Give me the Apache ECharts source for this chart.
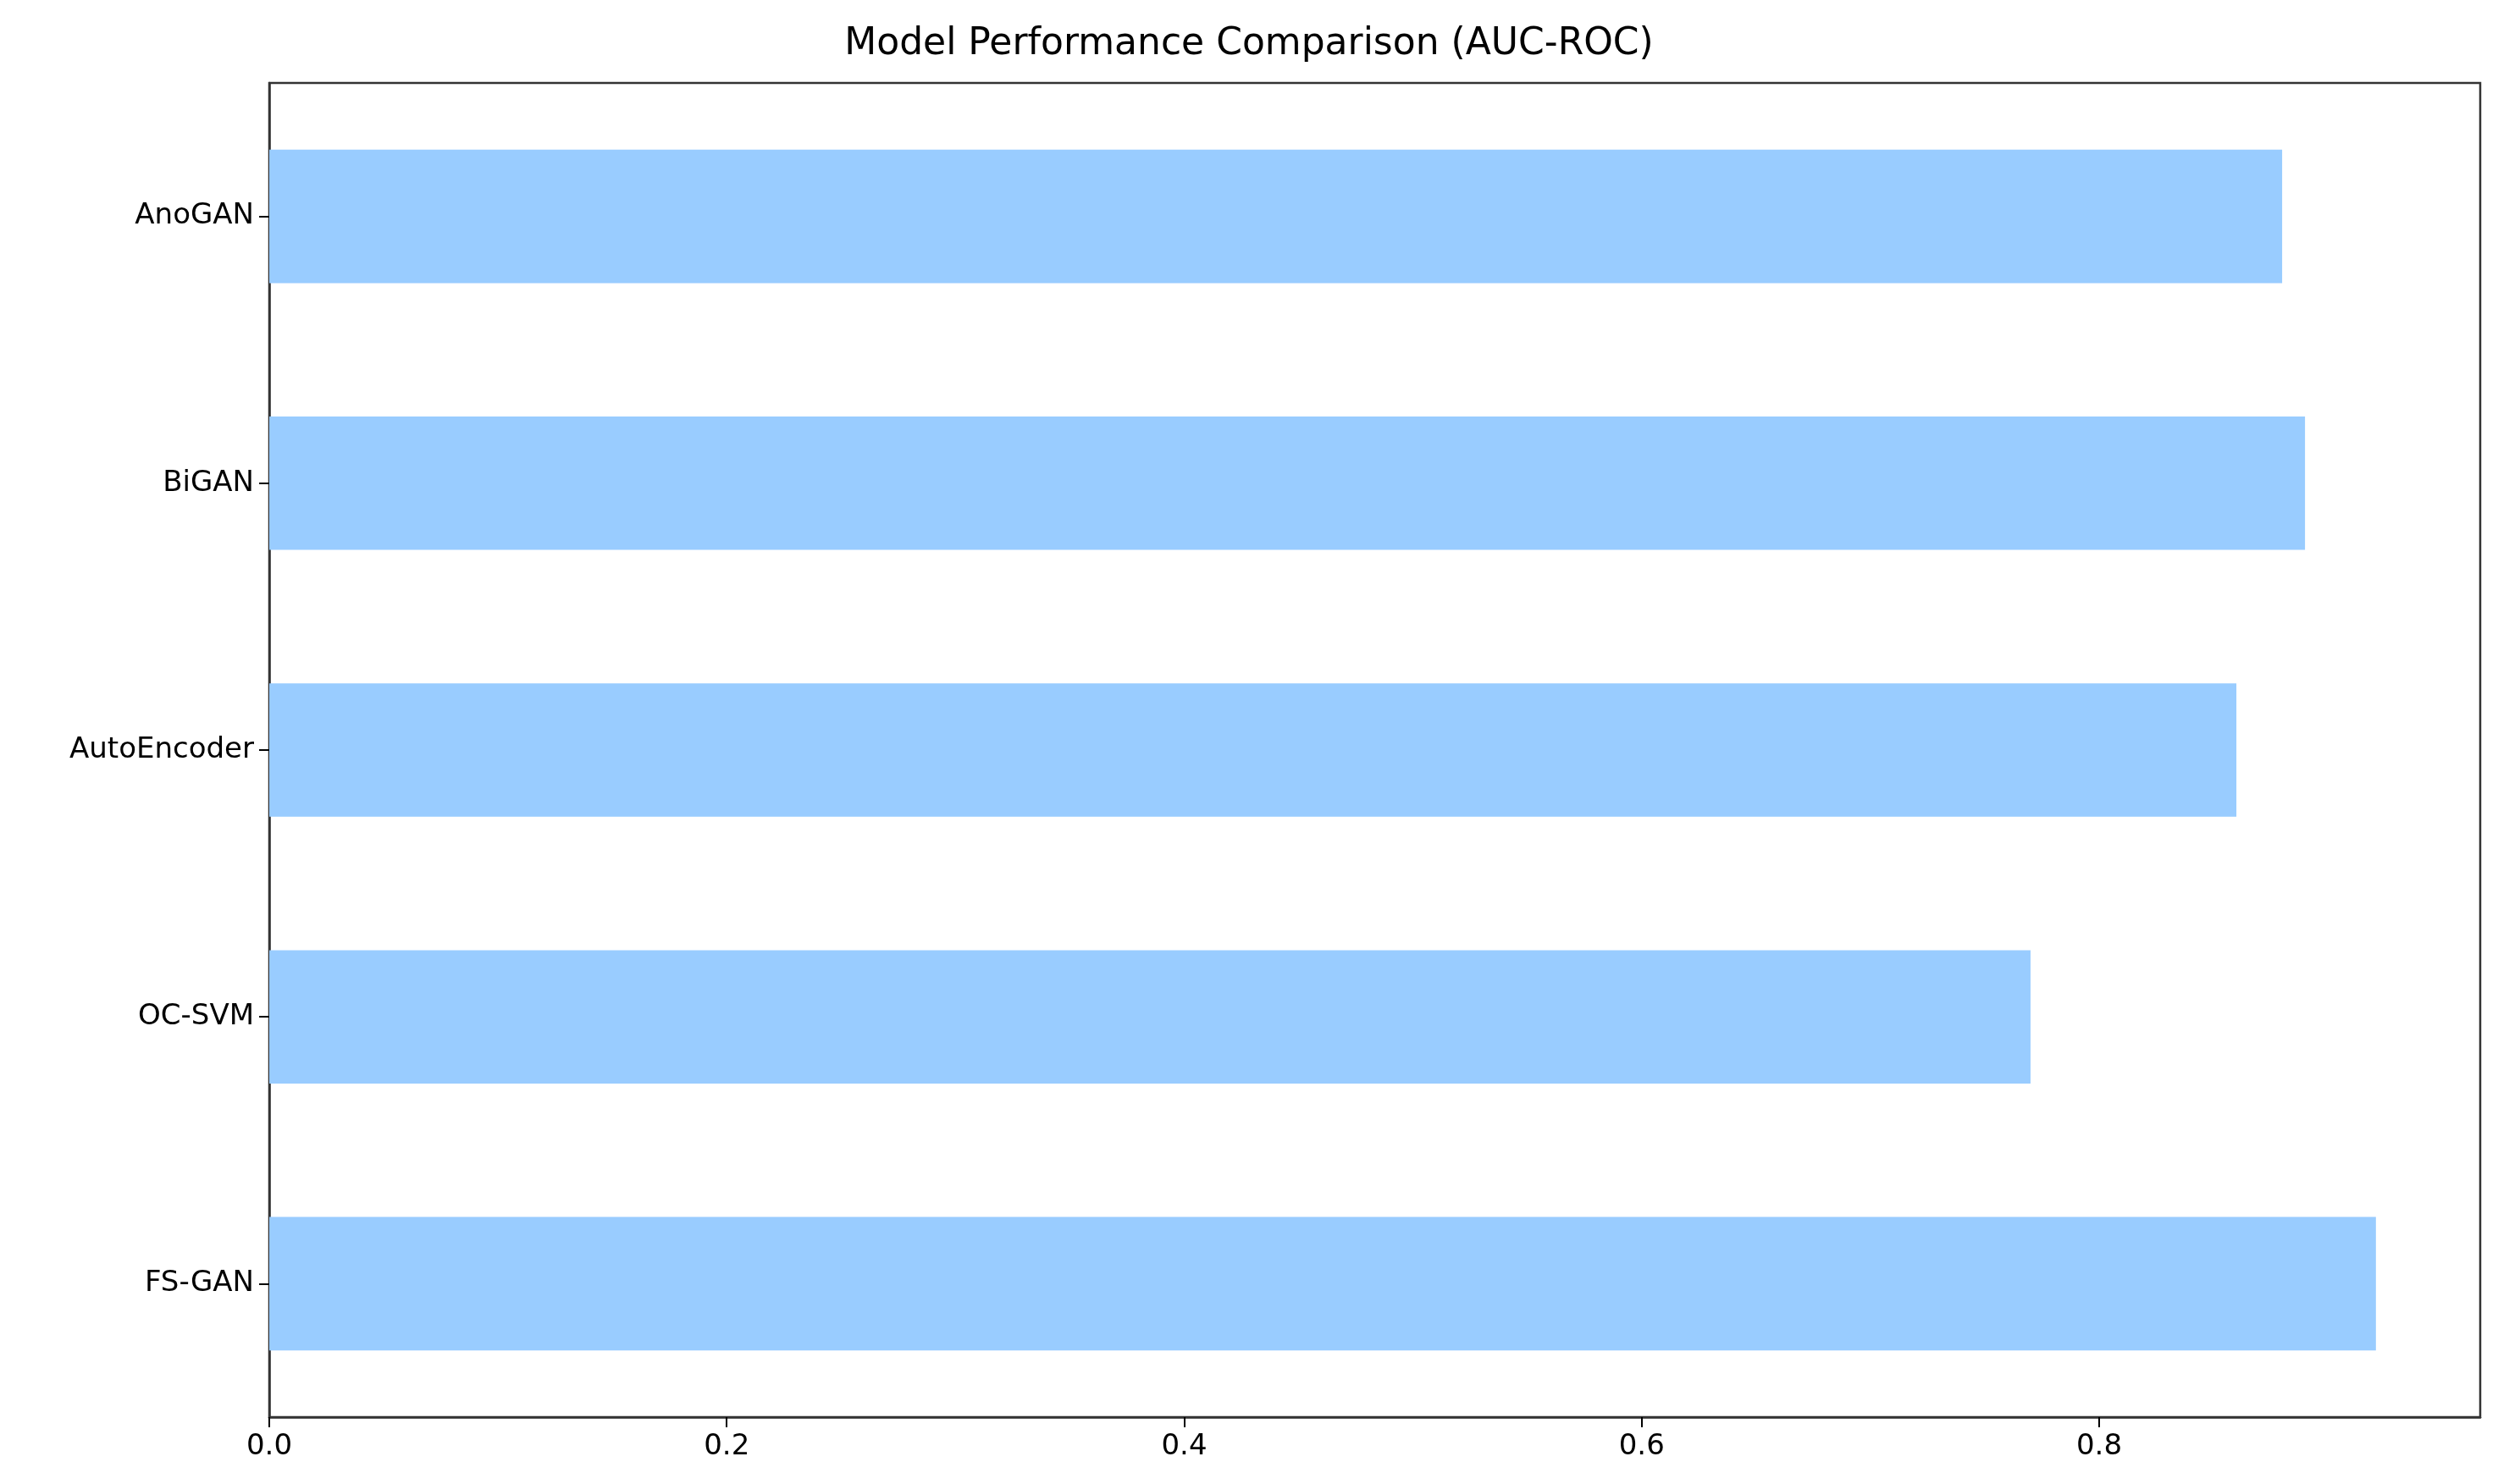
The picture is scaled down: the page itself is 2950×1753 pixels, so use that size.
<!DOCTYPE html>
<html><head><meta charset="utf-8">
<script src="https://cdn.jsdelivr.net/npm/echarts@6/dist/echarts.min.js"></script>
<style>html,body{margin:0;padding:0;background:#fff}#c{width:2950px;height:1753px}</style>
</head><body><div id="c"></div>
<script>
const categories = ['FS-GAN','OC-SVM','AutoEncoder','BiGAN','AnoGAN'];
const aucValues = [0.921, 0.770, 0.860, 0.890, 0.880];
const xTicks = [0.0, 0.2, 0.4, 0.6, 0.8];

const chart = echarts.init(document.getElementById('c'));
chart.setOption({
  backgroundColor:'#fff',
  animation:false,
  title:{text:'Model Performance Comparison (AUC-ROC)',left:'center',top:26,
    textStyle:{fontFamily:'DejaVu Sans',fontSize:44,fontWeight:'normal',color:'#000'}},
  grid:{left:318,right:21,top:98,bottom:79,show:true,borderColor:'#333',borderWidth:2.5},
  xAxis:{type:'value',min:0,max:0.9666,interval:0.2,
    axisLine:{show:true,lineStyle:{color:'#333',width:2.5}},
    axisTick:{show:true,length:12,lineStyle:{color:'#000',width:2}},
    splitLine:{show:false},
    axisLabel:{fontFamily:'DejaVu Sans',fontSize:34,color:'#000',margin:18,
      showMaxLabel:false,
      formatter:v=>xTicks.some(t=>Math.abs(t-v)<1e-9)?v.toFixed(1):''}},
  yAxis:{type:'category',data:categories,
    axisLine:{show:true,lineStyle:{color:'#333',width:2.5}},
    axisTick:{show:true,alignWithLabel:true,length:12,lineStyle:{color:'#000',width:2}},
    axisLabel:{fontFamily:'DejaVu Sans',fontSize:34,color:'#000',margin:18}},
  series:[{type:'bar',data:aucValues,barWidth:'50%',itemStyle:{color:'#99ccff'}}]
});
</script></body></html>
